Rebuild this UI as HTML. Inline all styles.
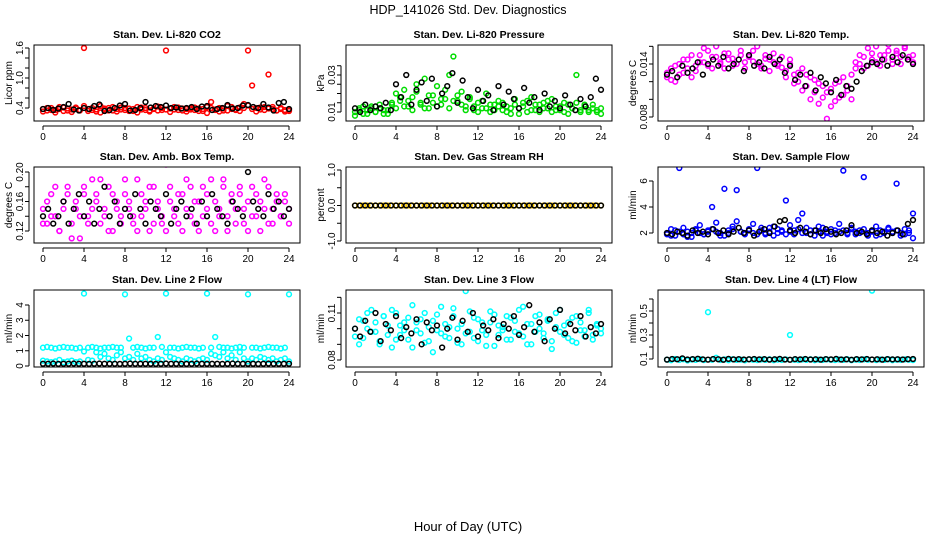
<!DOCTYPE html>
<html><head><meta charset="utf-8"><style>
body{margin:0;background:#fff}
svg{display:block;font-family:"Liberation Sans",sans-serif}
</style></head><body>
<svg id="chart" width="936" height="540" viewBox="0 0 936 540">
<text x="468" y="14" font-size="12.5" text-anchor="middle">HDP_141026  Std. Dev. Diagnostics</text>
<text x="468" y="531" font-size="13" text-anchor="middle">Hour of Day (UTC)</text>
</svg>
<script>
const xTicks=[0,4,8,12,16,20,24];
const co2Red=[0.38,0.35,0.40,0.36,0.42,0.34,0.39,0.37,0.41,0.35,1.60,0.38,0.36,0.33,0.44,0.37,0.40,0.35,0.38,0.41,0.36,0.39,0.34,0.42,0.37,0.40,0.35,0.38,0.43,0.36,1.55,0.39,0.37,0.41,0.35,0.38,0.40,0.36,0.39,0.34,0.42,0.52,0.37,0.40,0.35,0.44,0.38,0.36,0.41,0.48,1.55,0.85,0.40,0.37,0.42,1.07,0.38,0.35,0.40,0.36,0.34];
const co2Red2=[0.33,0.40,0.36,0.31,0.38,0.41,0.35,0.32,0.39,0.36,0.44,0.34,0.40,0.37,0.31,0.39,0.35,0.42,0.33,0.37,0.40,0.34,0.38,0.31,0.41,0.36,0.33,0.39,0.35,0.40,0.37,0.32,0.42,0.36,0.39,0.33,0.37,0.41,0.34,0.38,0.30,0.40,0.36,0.33,0.39,0.35,0.42,0.37,0.34,0.40,0.45,0.38,0.33,0.41,0.36,0.39,0.42,0.35,0.38,0.33,0.37];
const co2Black=[0.38,0.40,0.36,0.39,0.42,0.48,0.37,0.35,0.40,0.38,0.44,0.47,0.34,0.36,0.40,0.45,0.48,0.35,0.36,0.40,0.52,0.41,0.44,0.42,0.45,0.40,0.41,0.39,0.40,0.42,0.38,0.43,0.44,0.36,0.38,0.40,0.46,0.39,0.40,0.45,0.46,0.42,0.40,0.48,0.41,0.35,0.50,0.52,0.38];
const presGreen=[0.010,0.012,0.009,0.011,0.013,0.010,0.012,0.009,0.011,0.014,0.020,0.016,0.022,0.013,0.018,0.025,0.015,0.028,0.012,0.019,0.024,0.014,0.017,0.030,0.040,0.016,0.021,0.013,0.018,0.011,0.015,0.012,0.020,0.010,0.014,0.016,0.011,0.013,0.009,0.017,0.012,0.015,0.010,0.018,0.011,0.014,0.012,0.016,0.010,0.013,0.011,0.015,0.009,0.012,0.030,0.011,0.014,0.010,0.012,0.011,0.009];
const presGreen2=[0.008,0.011,0.013,0.009,0.012,0.010,0.014,0.011,0.009,0.015,0.012,0.018,0.013,0.016,0.011,0.021,0.014,0.012,0.019,0.015,0.013,0.017,0.022,0.012,0.016,0.019,0.014,0.011,0.017,0.013,0.010,0.016,0.012,0.014,0.011,0.013,0.015,0.010,0.012,0.014,0.009,0.013,0.016,0.011,0.014,0.010,0.015,0.012,0.017,0.011,0.013,0.010,0.014,0.012,0.015,0.010,0.013,0.011,0.014,0.010,0.012];
const presBlack=[0.012,0.010,0.014,0.011,0.013,0.012,0.015,0.011,0.025,0.018,0.030,0.014,0.022,0.026,0.016,0.028,0.013,0.020,0.024,0.031,0.015,0.027,0.018,0.012,0.022,0.016,0.019,0.011,0.024,0.014,0.021,0.017,0.012,0.023,0.015,0.018,0.011,0.020,0.013,0.016,0.012,0.019,0.014,0.011,0.017,0.013,0.018,0.028,0.022];
const tempMag=[0.0125,0.0135,0.0120,0.0140,0.0130,0.0145,0.0125,0.0138,0.0150,0.0142,0.0155,0.0135,0.0148,0.0140,0.0152,0.0145,0.0138,0.0172,0.0150,0.0142,0.0148,0.0155,0.0140,0.0135,0.0150,0.0145,0.0142,0.0138,0.0148,0.0132,0.0140,0.0128,0.0120,0.0135,0.0115,0.0125,0.0108,0.0118,0.0102,0.0078,0.0112,0.0098,0.0120,0.0105,0.0115,0.0100,0.0135,0.0140,0.0148,0.0138,0.0152,0.0142,0.0150,0.0145,0.0155,0.0140,0.0152,0.0148,0.0160,0.0145,0.0150];
const tempMag2=[0.0130,0.0122,0.0138,0.0128,0.0145,0.0135,0.0150,0.0132,0.0142,0.0158,0.0138,0.0148,0.0160,0.0142,0.0135,0.0152,0.0146,0.0140,0.0155,0.0135,0.0150,0.0143,0.0160,0.0138,0.0146,0.0132,0.0152,0.0140,0.0136,0.0125,0.0145,0.0118,0.0130,0.0110,0.0128,0.0100,0.0122,0.0095,0.0115,0.0108,0.0092,0.0118,0.0102,0.0125,0.0110,0.0128,0.0142,0.0150,0.0135,0.0158,0.0145,0.0160,0.0138,0.0150,0.0162,0.0145,0.0155,0.0140,0.0158,0.0148,0.0142];
const tempBlack=[0.0128,0.0132,0.0125,0.0138,0.0130,0.0135,0.0142,0.0128,0.0140,0.0145,0.0138,0.0148,0.0135,0.0140,0.0145,0.0132,0.0150,0.0138,0.0142,0.0135,0.0148,0.0140,0.0145,0.0130,0.0138,0.0122,0.0128,0.0115,0.0130,0.0110,0.0125,0.0118,0.0108,0.0122,0.0105,0.0115,0.0112,0.0120,0.0132,0.0138,0.0142,0.0140,0.0145,0.0138,0.0148,0.0142,0.0150,0.0145,0.0140];
const boxMag=[0.15,0.13,0.17,0.14,0.12,0.16,0.18,0.13,0.15,0.11,0.17,0.14,0.19,0.16,0.13,0.15,0.18,0.12,0.16,0.14,0.17,0.15,0.13,0.19,0.14,0.16,0.12,0.18,0.15,0.13,0.21,0.16,0.14,0.17,0.12,0.15,0.18,0.13,0.16,0.14,0.17,0.19,0.12,0.15,0.18,0.14,0.16,0.13,0.17,0.15,0.12,0.18,0.14,0.16,0.19,0.13,0.15,0.17,0.14,0.16,0.15];
const boxMag2=[0.13,0.16,0.14,0.18,0.12,0.15,0.17,0.11,0.16,0.14,0.18,0.13,0.15,0.17,0.19,0.14,0.12,0.17,0.15,0.13,0.19,0.16,0.14,0.12,0.17,0.15,0.18,0.13,0.16,0.14,0.12,0.18,0.15,0.13,0.17,0.19,0.14,0.16,0.12,0.18,0.15,0.13,0.16,0.14,0.19,0.12,0.17,0.15,0.18,0.13,0.16,0.14,0.17,0.12,0.15,0.18,0.13,0.16,0.14,0.17,0.13];
const boxBlack=[0.14,0.15,0.13,0.14,0.16,0.13,0.15,0.17,0.14,0.16,0.13,0.15,0.18,0.14,0.16,0.13,0.15,0.14,0.17,0.15,0.13,0.16,0.15,0.14,0.17,0.13,0.15,0.16,0.14,0.15,0.13,0.16,0.14,0.17,0.15,0.14,0.13,0.16,0.15,0.14,0.20,0.16,0.15,0.14,0.17,0.15,0.16,0.14,0.15];
const rhYellow=[0,0,0,0,0,0,0,0,0,0,0,0,0,0,0,0,0,0,0,0,0,0,0,0,0,0,0,0,0,0,0,0,0,0,0,0,0,0,0,0,0,0,0,0,0,0,0,0,0,0,0,0,0,0,0,0,0,0,0,0,0];
const rhBlack=[0,0,0,0,0,0,0,0,0,0,0,0,0,0,0,0,0,0,0,0,0,0,0,0,0,0,0,0,0,0,0,0,0,0,0,0,0,0,0,0,0,0,0,0,0,0,0,0,0];
const flowBlue=[2.0,1.8,2.2,7.0,1.9,2.1,1.7,2.3,2.0,1.9,2.2,4.0,2.1,1.8,5.4,2.0,2.3,5.3,2.1,1.9,2.2,2.0,7.0,2.4,1.9,2.1,2.5,2.0,2.2,4.5,2.1,1.9,2.3,3.5,2.0,2.2,1.8,2.1,2.4,2.0,1.9,2.2,2.1,6.8,2.0,2.3,1.9,2.2,6.3,2.0,2.1,1.8,2.2,2.0,2.3,2.1,5.8,2.0,1.9,2.2,3.5];
const flowBlue2=[1.9,2.3,1.8,2.1,2.4,1.7,2.0,2.2,2.6,1.9,2.1,2.3,2.8,2.0,1.8,2.2,2.5,2.9,2.1,2.0,2.3,2.7,1.9,2.2,2.0,2.4,1.8,2.3,2.1,1.9,2.6,2.2,3.0,2.0,2.4,1.9,2.2,2.5,1.8,2.1,2.3,2.0,2.7,2.2,1.9,2.4,2.1,2.0,2.3,1.8,2.2,2.5,1.9,2.1,2.4,2.0,2.2,1.8,2.3,2.0,1.6];
const flowBlack=[2.0,1.9,2.1,2.0,1.8,2.2,2.0,2.1,1.9,2.3,2.0,2.2,1.9,2.1,2.4,2.0,2.2,1.8,2.1,2.3,2.0,2.5,2.9,3.0,2.2,2.0,2.4,2.1,1.9,2.2,2.0,2.3,2.1,1.9,2.0,2.2,2.6,2.0,2.1,1.9,2.2,2.0,2.1,1.8,2.0,2.2,1.9,2.7,3.0];
const line2Hi=[1.2,1.25,1.2,1.15,1.2,1.25,1.2,1.2,1.15,1.2,4.75,1.2,1.25,1.2,1.15,1.2,1.2,1.25,1.2,1.2,4.7,1.8,1.2,1.25,1.2,1.15,1.2,1.2,1.9,1.25,4.75,1.2,1.2,1.15,1.2,1.25,1.2,1.2,1.15,1.2,4.75,1.2,1.9,1.25,1.2,1.2,1.15,1.2,1.25,1.2,4.7,1.2,1.2,1.15,1.2,1.25,1.2,1.2,1.15,1.2,4.7];
const line2Lo=[0.35,0.3,0.25,0.3,0.4,0.25,0.3,0.35,0.25,0.3,0.95,0.4,0.35,0.9,0.6,0.8,0.5,0.4,0.7,0.9,0.5,0.6,0.4,0.8,0.5,0.6,0.4,0.3,0.5,0.4,0.9,0.6,0.5,0.4,0.3,0.5,0.4,0.3,0.4,0.5,0.4,0.8,0.7,0.6,0.9,0.5,0.7,0.4,0.9,0.5,0.3,0.5,0.4,0.6,0.5,0.4,0.5,0.3,0.4,0.5,0.3];
const line2Black=[0.15,0.15,0.16,0.14,0.15,0.15,0.16,0.15,0.15,0.14,0.15,0.16,0.15,0.15,0.15,0.14,0.15,0.16,0.15,0.15,0.15,0.15,0.14,0.15,0.16,0.15,0.15,0.15,0.14,0.15,0.16,0.15,0.15,0.15,0.15,0.14,0.15,0.16,0.15,0.15,0.15,0.15,0.14,0.15,0.16,0.15,0.15,0.15,0.15];
const line3Cyan=[0.095,0.090,0.105,0.100,0.112,0.098,0.092,0.108,0.102,0.088,0.110,0.096,0.104,0.093,0.115,0.099,0.106,0.091,0.101,0.085,0.109,0.097,0.103,0.094,0.113,0.100,0.090,0.124,0.098,0.107,0.092,0.104,0.096,0.111,0.089,0.102,0.099,0.108,0.093,0.105,0.097,0.114,0.090,0.103,0.098,0.109,0.094,0.106,0.087,0.101,0.112,0.096,0.104,0.092,0.108,0.099,0.095,0.110,0.093,0.102,0.097];
const line3Cyan2=[0.100,0.106,0.094,0.110,0.098,0.104,0.090,0.108,0.096,0.112,0.093,0.102,0.099,0.107,0.088,0.104,0.097,0.110,0.092,0.105,0.099,0.114,0.095,0.101,0.108,0.091,0.103,0.097,0.111,0.094,0.106,0.099,0.089,0.104,0.109,0.096,0.101,0.093,0.107,0.098,0.112,0.095,0.103,0.090,0.108,0.100,0.097,0.105,0.092,0.110,0.098,0.102,0.094,0.107,0.091,0.104,0.099,0.112,0.096,0.103,0.100];
const line3Black=[0.100,0.095,0.105,0.098,0.110,0.092,0.103,0.099,0.108,0.094,0.101,0.097,0.106,0.090,0.104,0.099,0.102,0.088,0.100,0.107,0.093,0.105,0.098,0.110,0.095,0.102,0.099,0.106,0.094,0.103,0.100,0.108,0.096,0.101,0.115,0.098,0.104,0.092,0.106,0.100,0.112,0.097,0.103,0.099,0.108,0.095,0.101,0.097,0.103];
const line4Cyan=[0.095,0.090,0.100,0.092,0.098,0.088,0.096,0.093,0.099,0.091,0.49,0.094,0.110,0.092,0.097,0.090,0.098,0.093,0.095,0.089,0.097,0.094,0.091,0.096,0.093,0.098,0.090,0.095,0.092,0.097,0.30,0.094,0.091,0.096,0.093,0.098,0.090,0.095,0.092,0.097,0.094,0.091,0.096,0.093,0.098,0.090,0.095,0.092,0.097,0.094,0.67,0.091,0.096,0.093,0.098,0.090,0.095,0.092,0.097,0.094,0.091];
const line4Black=[0.095,0.100,0.098,0.105,0.096,0.099,0.102,0.097,0.095,0.100,0.098,0.094,0.101,0.097,0.099,0.096,0.098,0.100,0.097,0.099,0.095,0.098,0.101,0.096,0.094,0.099,0.097,0.100,0.096,0.098,0.095,0.099,0.097,0.101,0.096,0.098,0.094,0.099,0.097,0.100,0.096,0.098,0.095,0.099,0.097,0.098,0.096,0.099,0.100];

const NS='http://www.w3.org/2000/svg';
const svg=document.getElementById('chart');
const cols=[[34,300],[346,612],[658,924]];
const rows=[[45,121],[167,243],[290,367]];
function mk(tag,attrs,parent){const e=document.createElementNS(NS,tag);for(const k in attrs)e.setAttribute(k,attrs[k]);(parent||svg).appendChild(e);return e;}

const panels=[
 {id:'co2',title:'Stan. Dev. Li-820 CO2',ylab:'Licor ppm',c:0,r:0,ym:[0.4,108,1.6,48],yt:[0.4,0.6,0.8,1.0,1.2,1.4,1.6],yl:['0.4','','','1.0','','','1.6'],s:[[co2Red,'#ff0000'],[co2Red2,'#ff0000'],[co2Black,'#000']]},
 {id:'pressure',title:'Stan. Dev. Li-820 Pressure',ylab:'kPa',c:1,r:0,ym:[0.01,112,0.03,75],yt:[0.01,0.015,0.02,0.025,0.03,0.035],yl:['0.01','','','','0.03',''],s:[[presGreen,'#00dd00'],[presGreen2,'#00dd00'],[presBlack,'#000']]},
 {id:'temp',title:'Stan. Dev. Li-820 Temp.',ylab:'degrees C',c:2,r:0,ym:[0.008,117,0.014,64],yt:[0.008,0.010,0.012,0.014,0.016],yl:['0.008','','','0.014',''],s:[[tempMag,'#ff00ff'],[tempMag2,'#ff00ff'],[tempBlack,'#000']]},
 {id:'box-temp',title:'Stan. Dev. Amb. Box Temp.',ylab:'degrees C',c:0,r:1,ym:[0.12,231,0.20,172],yt:[0.12,0.14,0.16,0.18,0.20],yl:['0.12','','0.16','','0.20'],s:[[boxMag,'#ff00ff'],[boxMag2,'#ff00ff'],[boxBlack,'#000']]},
 {id:'rh',title:'Stan. Dev. Gas Stream RH',ylab:'percent',c:1,r:1,ym:[-1,241,1,170],yt:[-1,-0.5,0,0.5,1],yl:['-1.0','','0.0','','1.0'],s:[[rhYellow,'#ffcc00'],[rhBlack,'#000']]},
 {id:'sample-flow',title:'Stan. Dev. Sample Flow',ylab:'ml/min',c:2,r:1,ym:[2,233,6,181],yt:[2,4,6],yl:['2','4','6'],s:[[flowBlue,'#0000ff'],[flowBlue2,'#0000ff'],[flowBlack,'#000']]},
 {id:'line2',title:'Stan. Dev. Line 2 Flow',ylab:'ml/min',c:0,r:2,ym:[0,366,4,305],yt:[0,1,2,3,4],yl:['0','1','2','3','4'],s:[[line2Hi,'#00ffff'],[line2Lo,'#00ffff'],[line2Black,'#000']]},
 {id:'line3',title:'Stan. Dev. Line 3 Flow',ylab:'ml/min',c:1,r:2,ym:[0.08,360,0.11,313],yt:[0.08,0.09,0.10,0.11,0.12],yl:['0.08','','','0.11',''],s:[[line3Cyan,'#00ffff'],[line3Cyan2,'#00ffff'],[line3Black,'#000']]},
 {id:'line4',title:'Stan. Dev. Line 4 (LT) Flow',ylab:'ml/min',c:2,r:2,ym:[0.1,359,0.5,311],yt:[0.1,0.2,0.3,0.4,0.5,0.6],yl:['0.1','','0.3','','0.5',''],s:[[line4Cyan,'#00ffff'],[line4Black,'#000']]}
];

panels.forEach(p=>{
 const [x0,x1]=cols[p.c],[y0,y1]=rows[p.r];
 const g=mk('g',{});
 
 
 const xs=h=>x0+9+h*(x1-x0-20)/24;
 const [v1,p1,v2,p2]=p.ym;
 const ys=v=>p1+(v-v1)*(p2-p1)/(v2-v1);
 const t=mk('text',{x:(x0+x1)/2,y:y0-7,'font-size':10.5,'font-weight':'bold','text-anchor':'middle'},g);
 t.textContent=p.title;
 
 
 const yl=mk('text',{transform:`translate(${x0-22},${(y0+y1)/2}) rotate(-90)`,'font-size':10,'text-anchor':'middle'},g);
 yl.textContent=p.ylab;
 
 
 mk('line',{x1:xs(0),x2:xs(24),y1:y1+5,y2:y1+5,stroke:'#000','stroke-width':1},g);
 xTicks.forEach(h=>{
  mk('line',{x1:xs(h),x2:xs(h),y1:y1+5,y2:y1+9,stroke:'#000'},g);
  const tl=mk('text',{x:xs(h),y:y1+19,'font-size':10,'text-anchor':'middle'},g);
  tl.textContent=h;
  
  
 });
 const vis=p.yt.filter(v=>ys(v)>=y0-1&&ys(v)<=y1+1);
 mk('line',{x1:x0-5,x2:x0-5,y1:ys(vis[0]),y2:ys(vis[vis.length-1]),stroke:'#000'},g);
 p.yt.forEach((v,i)=>{
  const y=ys(v); if(y<y0-1||y>y1+1)return;
  mk('line',{x1:x0-9,x2:x0-5,y1:y,y2:y,stroke:'#000'},g);
  if(p.yl[i]){
   const l=mk('text',{transform:`translate(${x0-11},${y}) rotate(-90)`,'font-size':10,'text-anchor':'middle'},g);
   l.textContent=p.yl[i];
   
   
  }
 });
 const clip=mk('clipPath',{id:'clip-'+p.id},g);
 mk('rect',{x:x0,y:y0,width:x1-x0,height:y1-y0},clip);
 const pts=mk('g',{'clip-path':`url(#clip-${p.id})`},g);
 p.s.forEach(([arr,col])=>{
  const n=arr.length;
  arr.forEach((v,i)=>{
   const c=mk('circle',{cx:xs(i*24/(n-1)),cy:ys(v),r:2.4,fill:'none',stroke:col,'stroke-width':1.5},pts);
   
   
  });
 });
 mk('rect',{x:x0,y:y0,width:x1-x0,height:y1-y0,fill:'none',stroke:'#000','stroke-width':1},g);
});
</script>
</body></html>
